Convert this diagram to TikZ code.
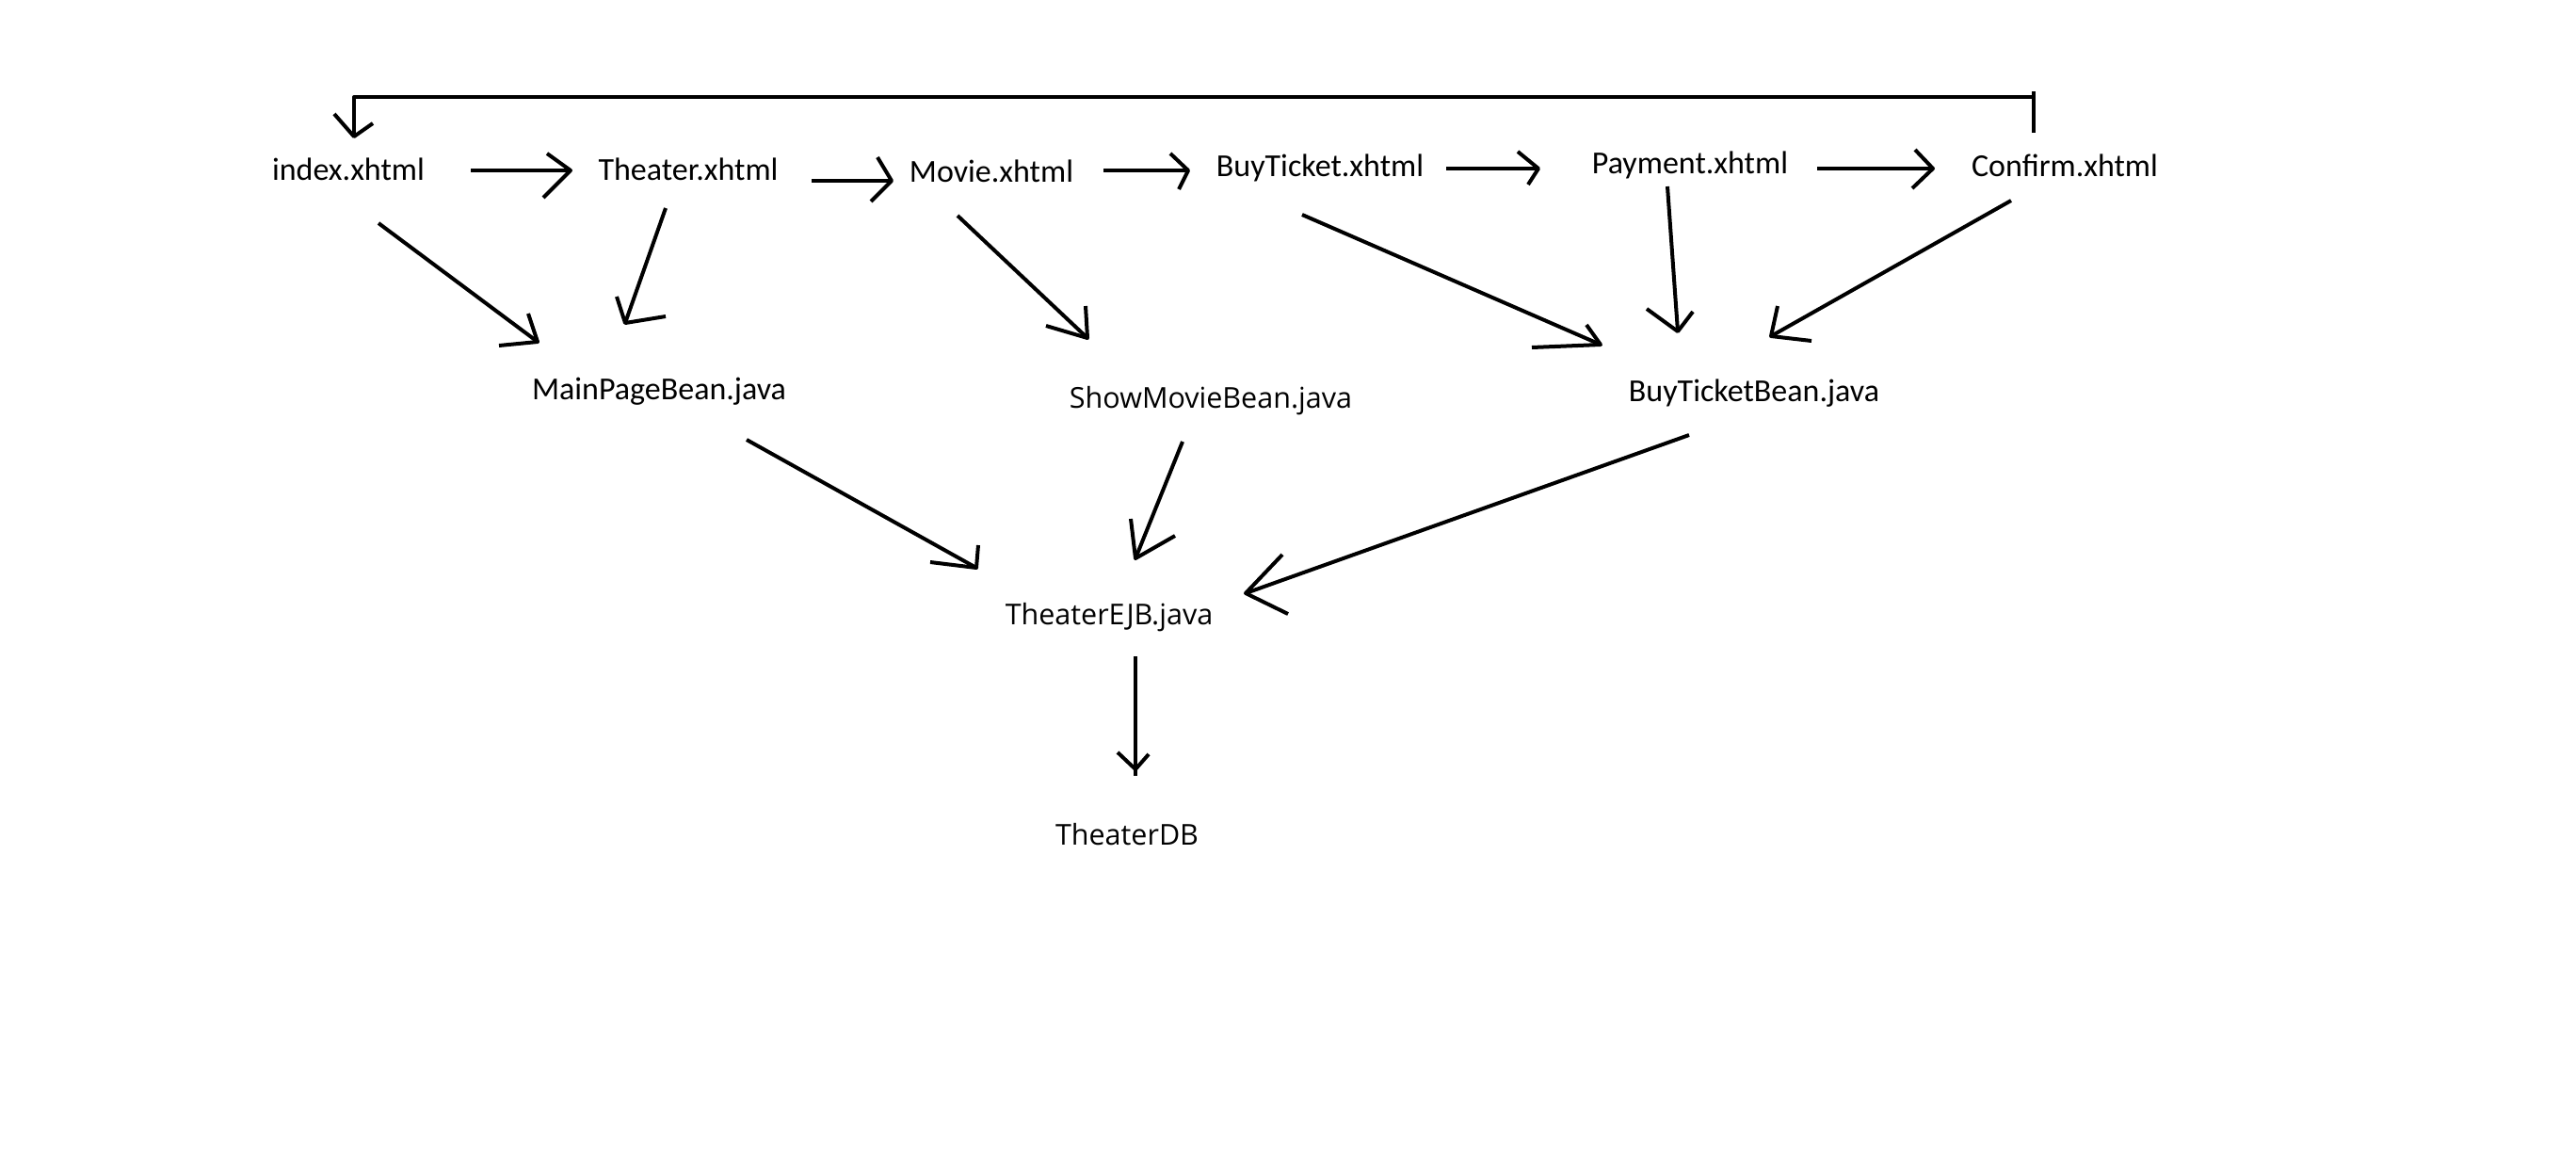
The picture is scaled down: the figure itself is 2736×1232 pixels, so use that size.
\documentclass[tikz,border=0pt]{standalone}
\usepackage{fontspec}
\usetikzlibrary{calc}
\newfontfamily\pagefont{Carlito}
\newfontfamily\classfont{Open Sans}
% open, hand-drawn style arrow head: two strokes meeting at the tip #1
\newcommand\barbs[3]{\draw[link] ($(#1)+(#2)$) -- (#1) -- ($(#1)+(#3)$);}
\begin{document}
\begin{tikzpicture}[x=1pt,y=-1pt,
  page/.style={inner sep=0pt, anchor=base, font=\pagefont\fontsize{34}{40}\selectfont},
  bean/.style={inner sep=0pt, anchor=base, font=\classfont\fontsize{30.5}{36}\selectfont},
  link/.style={line width=4pt, black, line join=round},
]
\fill[white] (0,0) rectangle (2736,1232);
\useasboundingbox (0,0) rectangle (2736,1232);

% --- pages
\node[page] (index)     at (370,191)  {index.xhtml};
\node[page] (theater)   at (731,191)  {Theater.xhtml};
\node[page] (movie)     at (1053,193) {Movie.xhtml};
\node[page] (buyticket) at (1402,187) {BuyTicket.xhtml};
\node[page] (payment)   at (1795,184) {Payment.xhtml};
\node[page] (confirm)   at (2193,187) {Confirm.xhtml};

% --- beans and backend
\node[page] (mainpage)      at (700,424)  {MainPageBean.java};
\node[bean] (showmovie)     at (1286,433) {ShowMovieBean.java};
\node[page] (buyticketbean) at (1863,426) {BuyTicketBean.java};
\node[bean] (ejb)           at (1178,663) {TheaterEJB.java};
\node[bean] (db)            at (1197,897) {TheaterDB};

% --- page flow
\draw[link] ($(index.base)+(130,-10)$) -- ($(theater.base)+(-125,-10)$) coordinate (t1);
\barbs{t1}{-25,-18}{-29,29}
\draw[link] ($(theater.base)+(131,1)$) -- ($(movie.base)+(-106,-1)$) coordinate (t2);
\barbs{t2}{-15,-25}{-22,22}
\draw[link] ($(movie.base)+(119,-12)$) -- ($(buyticket.base)+(-140,-6)$) coordinate (t3);
\barbs{t3}{-19,-18}{-10,20}
\draw[link] ($(buyticket.base)+(134,-8)$) -- ($(payment.base)+(-161,-5)$) coordinate (t4);
\barbs{t4}{-22,-18}{-11,17}
\draw[link] ($(payment.base)+(135,-5)$) -- ($(confirm.base)+(-140,-8)$) coordinate (t5);
\barbs{t5}{-19,-20}{-22,21}

% --- return from confirm to index
\draw[link] ($(confirm.base)+(-33,-46)$) -- ++(0,-44) ++(0,6)
  -| ($(index.base)+(6,-46)$) coordinate (t0);
\barbs{t0}{-21,-24}{20,-14}

% --- pages to beans
\draw[link] ($(index.base)+(32,46)$) -- ($(mainpage.base)+(-129,-61)$) coordinate (t6);
\barbs{t6}{-10,-30}{-41,4}
\draw[link] ($(theater.base)+(-24,30)$) -- ($(mainpage.base)+(-36,-81)$) coordinate (t7);
\barbs{t7}{-9,-28}{43,-7}
\draw[link] ($(movie.base)+(-36,36)$) -- ($(showmovie.base)+(-131,-74)$) coordinate (t8);
\barbs{t8}{-2,-34}{-44,-13}
\draw[link] ($(buyticket.base)+(-19,41)$) -- ($(buyticketbean.base)+(-163,-60)$) coordinate (t9);
\barbs{t9}{-15,-21}{-73,3}
\draw[link] ($(payment.base)+(-24,14)$) -- ($(buyticketbean.base)+(-81,-74)$) coordinate (t10);
\barbs{t10}{-33,-24}{16,-21}
\draw[link] ($(confirm.base)+(-57,26)$) -- ($(buyticketbean.base)+(18,-69)$) coordinate (t11);
\barbs{t11}{7,-32}{43,5}

% --- beans to EJB
\draw[link] ($(mainpage.base)+(93,43)$) -- ($(ejb.base)+(-141,-60)$) coordinate (t12);
\barbs{t12}{2,-24}{-49,-6}
\draw[link] ($(showmovie.base)+(-30,36)$) -- ($(ejb.base)+(28,-70)$) coordinate (t13);
\barbs{t13}{-5,-42}{42,-24}
\draw[link] ($(buyticketbean.base)+(-69,36)$) -- ($(ejb.base)+(145,-33)$) coordinate (t14);
\barbs{t14}{39,-41}{45,22}

% --- EJB to database
\draw[link] ($(ejb.base)+(28,34)$) -- ($(db.base)+(9,-73)$);
\path ($(db.base)+(9,-80)$) coordinate (t15);
\barbs{t15}{-19,-18}{14,-16}
\end{tikzpicture}
\end{document}
